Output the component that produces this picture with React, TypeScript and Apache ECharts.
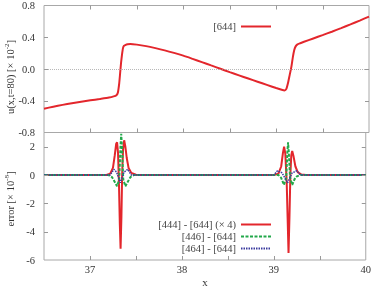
import React, { useEffect, useRef } from "react";
import * as echarts from "echarts";

// top panel: u(x, t=80) [x 10^-2]
const uX = [36.5, 36.6, 36.7, 36.8, 36.9, 37.0, 37.1, 37.2, 37.25, 37.28, 37.295, 37.31, 37.32, 37.33, 37.34, 37.35, 37.36, 37.38, 37.4, 37.43, 37.5, 37.6, 37.7, 37.8, 37.9, 38.0, 38.1, 38.2, 38.3, 38.4, 38.5, 38.6, 38.7, 38.8, 38.9, 39.0, 39.06, 39.09, 39.11, 39.127, 39.145, 39.163, 39.18, 39.195, 39.21, 39.23, 39.26, 39.3, 39.4, 39.5, 39.6, 39.7, 39.8, 39.9, 40.0];
const uY = [-0.5, -0.475, -0.452, -0.432, -0.413, -0.395, -0.378, -0.36, -0.345, -0.33, -0.3, -0.18, -0.05, 0.08, 0.18, 0.26, 0.29, 0.305, 0.312, 0.315, 0.307, 0.288, 0.263, 0.235, 0.203, 0.168, 0.128, 0.087, 0.045, 0.003, -0.04, -0.08, -0.12, -0.16, -0.2, -0.24, -0.262, -0.27, -0.25, -0.18, -0.08, 0.02, 0.15, 0.24, 0.285, 0.31, 0.325, 0.343, 0.385, 0.427, 0.47, 0.515, 0.562, 0.61, 0.66];

// bottom panel: errors [x 10^-8]
const redX = [36.5, 37.18, 37.22, 37.25, 37.27, 37.285, 37.295, 37.305, 37.315, 37.325, 37.333, 37.342, 37.35, 37.36, 37.372, 37.385, 37.4, 37.42, 37.45, 37.5, 37.55, 39.0, 39.05, 39.08, 39.1, 39.112, 39.125, 39.14, 39.15, 39.16, 39.17, 39.18, 39.19, 39.2, 39.215, 39.235, 39.26, 39.3, 39.35, 40.0];
const redY = [0, 0, 0.1, 0.5, 1.4, 2.2, 2.3, 1.6, -0.5, -3.5, -5.2, -3.0, 0.0, 1.8, 2.45, 2.0, 1.2, 0.5, 0.15, 0.02, 0, 0, 0.1, 0.6, 1.6, 2.0, 1.5, -0.5, -3.0, -5.5, -3.0, 0.0, 1.4, 1.7, 1.3, 0.6, 0.2, 0.03, 0, 0];

const greenX = [36.5, 37.2, 37.24, 37.27, 37.295, 37.318, 37.332, 37.34, 37.348, 37.362, 37.385, 37.41, 37.44, 37.48, 39.05, 39.08, 39.11, 39.135, 39.147, 39.155, 39.163, 39.177, 39.2, 39.225, 39.25, 39.29, 40.0];
const greenY = [0, 0, -0.15, -0.5, -0.8, -0.3, 2.0, 2.9, 2.0, -0.3, -0.8, -0.5, -0.15, 0, 0, -0.2, -0.7, -0.2, 1.6, 2.3, 1.6, -0.2, -0.7, -0.3, -0.1, 0, 0];

const blueX = [36.5, 37.22, 37.26, 37.29, 37.33, 37.37, 37.41, 37.45, 39.0, 39.04, 39.09, 39.15, 39.2, 39.25, 39.29, 40.0];
const blueY = [0, 0, 0.4, 0.2, -0.55, 0.2, 0.4, 0, 0, 0.3, 0.15, -0.55, 0.15, 0.3, 0, 0];

// tick values (labels and inner tick marks)
const xTicks = [37, 38, 39, 40];
const xTickMarks = [37, 37.5, 38, 38.5, 39, 39.5];
const yTopTickMarks = [-0.4, 0, 0.4];
const yBotTickMarks = [-4, -2, 0, 2];
const names = ["[644]", "[444] - [644] (× 4)", "[446] - [644]", "[464] - [644]"];

const pairs = (xs: number[], ys: number[]) => xs.map((x, i) => [x, ys[i]]);

const FONT = "Liberation Serif";
const AX = "#a8a8a8";
const TICK = "#999";
const TXT = "#333";
const TL = 4;

export default function App() {
  const ref = useRef<HTMLDivElement>(null);
  useEffect(() => {
    if (!ref.current) return;
    const chart = echarts.init(ref.current, undefined, { renderer: "svg" });
    const xBase = () => ({
      type: "value" as const,
      min: 36.5,
      max: 40,
      interval: 0.5,
      axisLine: { show: false, onZero: false },
      splitLine: { show: false },
      axisTick: { show: false },
    });
    const yBase = () => ({
      type: "value" as const,
      axisLine: { show: false, onZero: false },
      splitLine: { show: false },
      axisTick: { show: false },
    });
    const lbl = { fontFamily: FONT, fontSize: 10.5, color: TXT };
    const legendBase = {
      right: 97,
      align: "right" as const,
      orient: "vertical" as const,
      itemWidth: 30,
      itemHeight: 10,
      itemGap: 1,
      itemStyle: { opacity: 0 },
      textStyle: { fontFamily: FONT, fontSize: 10.5, color: "#444" },
    };
    const rich = {
      n: { fontFamily: FONT, fontSize: 10.5, fill: TXT, lineHeight: 13 },
      s: { fontFamily: FONT, fontSize: 7, fill: TXT, verticalAlign: "top", lineHeight: 13 },
    };
    const tickStyle = { stroke: TICK, lineWidth: 1 };
    // custom series drawing tick marks through the axes' own scales
    const xTickSeries = (xi: number, yi: number, bothSides: boolean) => ({
      type: "custom",
      xAxisIndex: xi,
      yAxisIndex: yi,
      silent: true,
      clip: false,
      z: 5,
      encode: { x: 0, y: 1 },
      data: xTickMarks.map((v) => [v, 0]),
      renderItem: (params: any, api: any) => {
        const cs = params.coordSys;
        const px = Math.round(api.coord([api.value(0), 0])[0]) + 0.5;
        const bottom = cs.y + cs.height;
        const children: any[] = [
          { type: "line", shape: { x1: px, y1: bottom, x2: px, y2: bottom - TL }, style: tickStyle },
        ];
        if (bothSides) {
          children.push({ type: "line", shape: { x1: px, y1: cs.y, x2: px, y2: cs.y + TL }, style: tickStyle });
        }
        return { type: "group", children };
      },
    });
    const yTickSeries = (xi: number, yi: number, vals: number[]) => ({
      type: "custom",
      xAxisIndex: xi,
      yAxisIndex: yi,
      silent: true,
      clip: false,
      z: 5,
      encode: { x: 0, y: 1 },
      data: vals.map((v) => [36.5, v]),
      renderItem: (params: any, api: any) => {
        const cs = params.coordSys;
        const py = Math.round(api.coord([36.5, api.value(1)])[1]) + 0.5;
        const right = cs.x + cs.width;
        return {
          type: "group",
          children: [
            { type: "line", shape: { x1: cs.x, y1: py, x2: cs.x + TL, y2: py }, style: tickStyle },
            { type: "line", shape: { x1: right, y1: py, x2: right - TL, y2: py }, style: tickStyle },
          ],
        };
      },
    });
    chart.setOption({
      animation: false,
      grid: [
        { left: 44, right: 5, top: 4.5, height: 128, show: true, borderColor: AX, borderWidth: 1 },
        { left: 44, right: 5, top: 132.5, height: 131, show: true, borderColor: AX, borderWidth: 1 },
      ],
      xAxis: [
        { ...xBase(), gridIndex: 0, position: "bottom", axisLabel: { show: false } },
        {
          ...xBase(),
          gridIndex: 1,
          position: "bottom",
          axisLabel: {
            ...lbl,
            margin: 4,
            formatter: (v: number) => (xTicks.indexOf(v) >= 0 ? String(v) : ""),
          },
          name: "x",
          nameLocation: "middle",
          nameGap: 16,
          nameTextStyle: { fontFamily: FONT, fontSize: 11, color: TXT },
        },
      ],
      yAxis: [
        {
          ...yBase(),
          gridIndex: 0,
          min: -0.8,
          max: 0.8,
          interval: 0.4,
          position: "left",
          axisLabel: { ...lbl, margin: 9, formatter: (v: number) => v.toFixed(1) },
        },
        {
          ...yBase(),
          gridIndex: 1,
          min: -6,
          max: 3,
          interval: 2,
          position: "left",
          axisLabel: { ...lbl, margin: 9, showMaxLabel: false },
        },
      ],
      legend: [
        { ...legendBase, data: [names[0]], top: 16 },
        { ...legendBase, data: names.slice(1), top: 214 },
      ],
      graphic: [
        {
          type: "text",
          x: 10,
          y: 77,
          rotation: Math.PI / 2,
          style: {
            text: "{n|u(x,t=80) [× 10}{s|-2}{n|]}",
            align: "center",
            verticalAlign: "middle",
            fill: TXT,
            rich,
          },
        },
        {
          type: "text",
          x: 10,
          y: 199,
          rotation: Math.PI / 2,
          style: {
            text: "{n|error [× 10}{s|-8}{n|]}",
            align: "center",
            verticalAlign: "middle",
            fill: TXT,
            rich,
          },
        },
      ],
      series: [
        xTickSeries(0, 0, true),
        yTickSeries(0, 0, yTopTickMarks),
        xTickSeries(1, 1, false),
        yTickSeries(1, 1, yBotTickMarks),
        {
          name: names[0],
          type: "line",
          xAxisIndex: 0,
          yAxisIndex: 0,
          data: pairs(uX, uY),
          showSymbol: false,
          symbol: "none",
          smooth: 0.2,
          color: "#e3262c",
          lineStyle: { width: 2, color: "#e3262c" },
          markLine: {
            silent: true,
            symbol: "none",
            label: { show: false },
            lineStyle: { color: "#999", width: 0.7, type: [1, 1] },
            data: [{ yAxis: 0 }],
          },
        },
        {
          name: names[1],
          type: "line",
          xAxisIndex: 1,
          yAxisIndex: 1,
          data: pairs(redX, redY),
          showSymbol: false,
          symbol: "none",
          color: "#e3262c",
          lineStyle: { width: 2, color: "#e3262c" },
        },
        {
          name: names[2],
          type: "line",
          xAxisIndex: 1,
          yAxisIndex: 1,
          data: pairs(greenX, greenY),
          showSymbol: false,
          symbol: "none",
          color: "#22a84a",
          lineStyle: { width: 2, color: "#22a84a", type: [3, 1.5] },
        },
        {
          name: names[3],
          type: "line",
          xAxisIndex: 1,
          yAxisIndex: 1,
          data: pairs(blueX, blueY),
          showSymbol: false,
          symbol: "none",
          color: "#3a3a9e",
          lineStyle: { width: 1.5, color: "#3a3a9e", type: [1.5, 1] },
        },
      ],
    });
    return () => chart.dispose();
  }, []);
  return <div ref={ref} style={{ position: "fixed", left: 0, top: 0, width: 374, height: 288 }} />;
}
